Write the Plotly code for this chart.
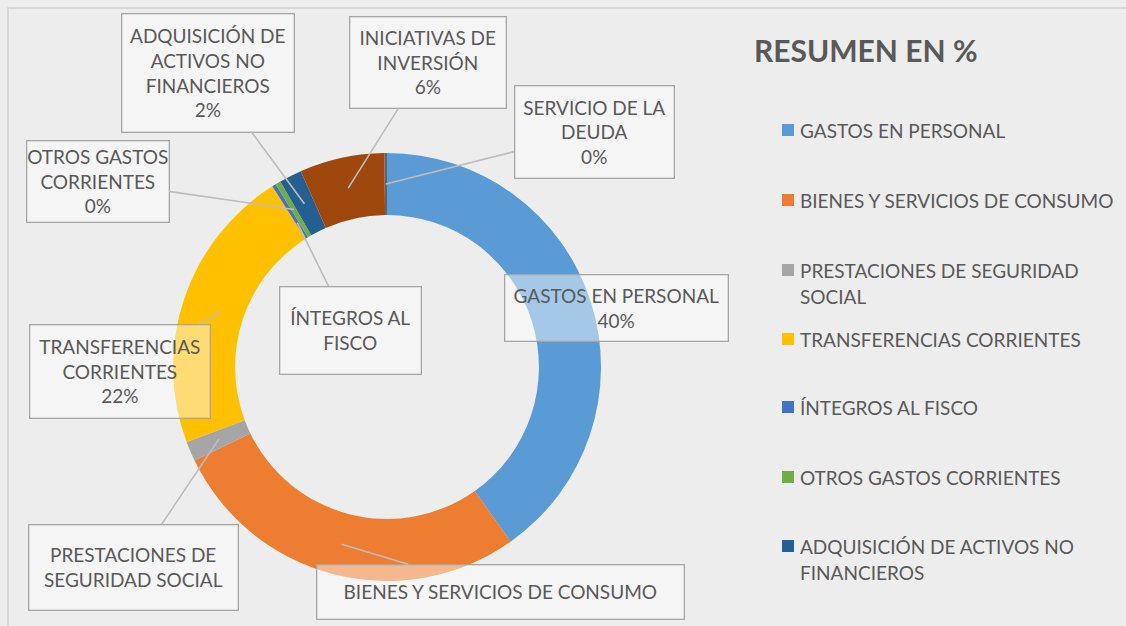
import math
import plotly.graph_objects as go

# ---------------- data ----------------
categories = [
    "GASTOS EN PERSONAL",
    "BIENES Y SERVICIOS DE CONSUMO",
    "PRESTACIONES DE SEGURIDAD SOCIAL",
    "TRANSFERENCIAS CORRIENTES",
    "ÍNTEGROS AL FISCO",
    "OTROS GASTOS CORRIENTES",
    "ADQUISICIÓN DE ACTIVOS NO FINANCIEROS",
    "INICIATIVAS DE INVERSIÓN",
    "SERVICIO DE LA DEUDA",
]
values = [40.2, 27.6, 1.5, 21.7, 0.3, 0.4, 1.7, 6.4, 0.2]
colors = ["#5B9BD5", "#ED7D31", "#A5A5A5", "#FFC000", "#4472C4",
          "#70AD47", "#255E91", "#9E480E", "#636363"]

# callout text (as in the chart) and whether it shows the percentage
callout_text = [
    "GASTOS EN PERSONAL",
    "BIENES Y SERVICIOS DE CONSUMO",
    "PRESTACIONES DE<br>SEGURIDAD SOCIAL",
    "TRANSFERENCIAS<br>CORRIENTES",
    "ÍNTEGROS AL<br>FISCO",
    "OTROS GASTOS<br>CORRIENTES",
    "ADQUISICIÓN DE<br>ACTIVOS NO<br>FINANCIEROS",
    "INICIATIVAS DE<br>INVERSIÓN",
    "SERVICIO DE LA<br>DEUDA",
]
callout_pct = [True, False, False, True, False, True, True, True, True]

# legend entries shown (the last two are cut off in the original)
legend_lines = [
    ["GASTOS EN PERSONAL"],
    ["BIENES Y SERVICIOS DE CONSUMO"],
    ["PRESTACIONES DE SEGURIDAD", "SOCIAL"],
    ["TRANSFERENCIAS CORRIENTES"],
    ["ÍNTEGROS AL FISCO"],
    ["OTROS GASTOS CORRIENTES"],
    ["ADQUISICIÓN DE ACTIVOS NO", "FINANCIEROS"],
]
legend_title = "RESUMEN EN %"

# ---------------- layout constants (pixels) ----------------
W, H = 1126, 626
CX, CY, R = 387, 367, 214
HOLE = 0.71
TXT = "#595959"
FONT = "Lato"
FS = 19

# callout boxes: center x, center y, width, height, tip radius, arrow?
boxes = [
    (616, 307.5, 222, 65, 183, False),
    (500, 591.5, 366, 53, 183, True),
    (133, 567, 208, 84, 183, True),
    (119.5, 371, 179, 92, 175, True),
    (350, 330, 140, 86, 170, True),
    (97.5, 181, 141, 80, 183, True),
    (207.5, 72.5, 171, 117, 183, True),
    (427.5, 62, 155, 90, 183, True),
    (594, 131.5, 158, 91, 183, True),
]

fig = go.Figure()

fig.add_trace(go.Pie(
    labels=categories, values=values, sort=False, direction="clockwise",
    rotation=0, hole=HOLE, marker=dict(colors=colors, line=dict(width=0)),
    textinfo="none", hoverinfo="label+percent", showlegend=False,
    domain=dict(x=[(CX - R) / W, (CX + R) / W],
                y=[(H - CY - R) / H, (H - CY + R) / H]),
))

# invisible pixel-space axes for annotations
fig.add_trace(go.Scatter(x=[0, W], y=[0, H], mode="markers",
                         marker=dict(opacity=0), hoverinfo="skip", showlegend=False))

total = sum(values)
cum = 0.0
annotations = []
for i, v in enumerate(values):
    mid = (cum + v / 2) / total * 2 * math.pi
    cum += v
    bx, by, bw, bh, rt, arrow = boxes[i]
    tx = CX + rt * math.sin(mid)
    ty = CY - rt * math.cos(mid)
    pct = round(v / total * 100)
    text = callout_text[i] + (f"<br>{pct}%" if callout_pct[i] else "")
    ann = dict(
        text=text, font=dict(family=FONT, size=FS, color=TXT),
        width=bw, height=bh, align="center", valign="middle",
        bgcolor="rgba(255,255,255,0.45)", bordercolor="#A6A6A6",
        borderwidth=1.3, borderpad=0, xref="x", yref="y",
    )
    if arrow:
        ann.update(x=tx, y=ty, ax=bx, ay=by, axref="x", ayref="y",
                   showarrow=True, arrowhead=0, arrowwidth=1.6,
                   arrowcolor="#BDBDBD", standoff=0)
    else:
        ann.update(x=bx, y=by, showarrow=False)
    annotations.append(ann)

# legend title
annotations.append(dict(text=f"<b>{legend_title}</b>", x=752, y=50, xref="x", yref="y",
                        xanchor="left", yanchor="middle", showarrow=False,
                        font=dict(family=FONT, size=30, color=TXT)))

shapes = []
leg_y = [130, 200, 270, 339, 407, 477, 546]
for i, lines in enumerate(legend_lines):
    y0 = leg_y[i]
    shapes.append(dict(type="rect", xref="x", yref="y", x0=782, x1=794,
                       y0=y0 - 6, y1=y0 + 6, fillcolor=colors[i], line=dict(width=0)))
    for j, ln in enumerate(lines):
        annotations.append(dict(text=ln, x=798, y=y0 + 26 * j, xref="x", yref="y",
                                xanchor="left", yanchor="middle", showarrow=False,
                                font=dict(family=FONT, size=FS, color=TXT)))

# chart frame
shapes.append(dict(type="rect", xref="x", yref="y", x0=8, x1=W + 20, y0=8, y1=H + 20,
                   line=dict(color="#D0D0D0", width=1.5), fillcolor="rgba(0,0,0,0)",
                   layer="below"))

fig.update_layout(
    width=W, height=H, margin=dict(l=0, r=0, t=0, b=0),
    paper_bgcolor="#EDEDED", plot_bgcolor="rgba(0,0,0,0)",
    xaxis=dict(range=[0, W], visible=False, fixedrange=True),
    yaxis=dict(range=[H, 0], visible=False, fixedrange=True),
    annotations=annotations, shapes=shapes, showlegend=False,
)

fig.write_html("out.html", config={"displayModeBar": False},
               post_script="document.body.style.margin='0';document.body.style.overflow='hidden';")
